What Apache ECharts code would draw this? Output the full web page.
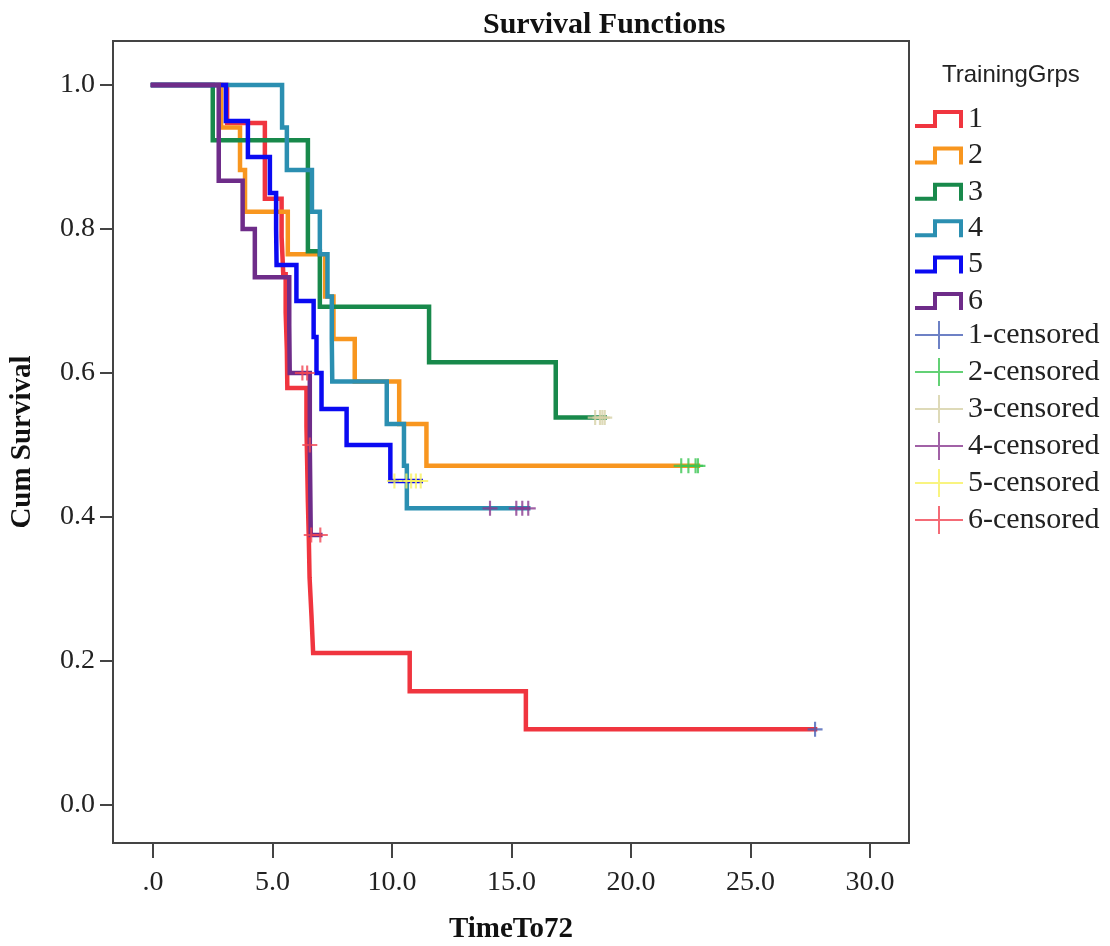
<!DOCTYPE html>
<html>
<head>
<meta charset="utf-8">
<script src="https://cdn.jsdelivr.net/npm/echarts@6/dist/echarts.min.js"></script>
<style>
  html, body { margin: 0; padding: 0; background: #ffffff; }
  #chart { width: 1110px; height: 946px; }
</style>
</head>
<body>
<div id="chart"></div>
<script>
// Kaplan-Meier survival curves by training group: [time, cumulative survival]
const grp1 = [[0, 1], [3.1, 0.947], [4.68, 0.842], [5.38, 0.789], [5.45, 0.737], [5.55, 0.684],
  [5.6, 0.632], [5.62, 0.579], [6.42, 0.526], [6.45, 0.474], [6.48, 0.421], [6.52, 0.368],
  [6.55, 0.316], [6.63, 0.263], [6.7, 0.211], [10.74, 0.158], [15.6, 0.105], [27.7, 0.105]];
const grp2 = [[0, 1], [2.85, 0.941], [3.64, 0.882], [3.85, 0.824], [5.64, 0.765], [7.2, 0.706],
  [7.55, 0.647], [8.44, 0.588], [10.3, 0.529], [11.44, 0.471], [22.8, 0.471]];
const grp3 = [[0, 1], [2.5, 0.923], [6.48, 0.769], [6.98, 0.692], [11.55, 0.615], [16.85, 0.538],
  [18.9, 0.538]];
const grp4 = [[0, 1], [5.4, 0.941], [5.6, 0.882], [6.65, 0.824], [6.98, 0.765], [7.3, 0.706],
  [7.48, 0.647], [7.5, 0.588], [9.78, 0.529], [10.5, 0.471], [10.62, 0.412], [15.7, 0.412]];
const grp5 = [[0, 1], [3.05, 0.95], [3.97, 0.9], [4.89, 0.85], [5.15, 0.8], [5.17, 0.75], [6.0, 0.7],
  [6.72, 0.65], [6.84, 0.6], [7.05, 0.55], [8.1, 0.5], [9.93, 0.45], [11.2, 0.45]];
const grp6 = [[0, 1], [2.75, 0.867], [3.75, 0.8], [4.26, 0.733], [5.7, 0.667], [5.72, 0.6],
  [6.56, 0.5], [6.6, 0.375], [7.0, 0.375]];

// Censored observations: [time, survival at censoring]
const cens1 = [[27.7, 0.105]];
const cens2 = [[22.1, 0.471], [22.4, 0.471], [22.7, 0.471], [22.8, 0.471]];
const cens3 = [[18.5, 0.538], [18.7, 0.538], [18.8, 0.538], [18.9, 0.538]];
const cens4 = [[14.1, 0.412], [15.2, 0.412], [15.45, 0.412], [15.7, 0.412]];
const cens5 = [[10.1, 0.45], [10.6, 0.45], [10.8, 0.45], [11.0, 0.45], [11.2, 0.45]];
const cens6 = [[6.25, 0.6], [6.45, 0.6], [6.56, 0.5], [6.62, 0.375], [7.0, 0.375]];

const groupNames = ['1', '2', '3', '4', '5', '6'];
const censoredNames = ['1-censored', '2-censored', '3-censored', '4-censored', '5-censored', '6-censored'];
const groupColors = ['#f0353f', '#f8961f', '#18894b', '#2b8fb1', '#0a0af2', '#6e2c89'];
const censoredColors = ['#4862b6', '#3cc653', '#d6d1a6', '#8a3a90', '#f7f160', '#f14654'];

const xTicks = [0, 5, 10, 15, 20, 25, 30];
const xTickLabels = ['.0', '5.0', '10.0', '15.0', '20.0', '25.0', '30.0'];
const yTicks = [0, 0.2, 0.4, 0.6, 0.8, 1.0];
const yTickLabels = ['0.0', '0.2', '0.4', '0.6', '0.8', '1.0'];

const groups = [grp1, grp2, grp3, grp4, grp5, grp6];
const censored = [cens1, cens2, cens3, cens4, cens5, cens6];

function tickText(ticks, labels, v) {
  for (let i = 0; i < ticks.length; i++) {
    if (Math.abs(ticks[i] - v) < 1e-6) return labels[i];
  }
  return '';
}

const serif = '"Liberation Serif", "Times New Roman", serif';
const stepIcon = 'path://M0,14H18V0H48V18H44V4H22V18H0Z';
const plusIcon = 'path://M0,13H23V0H25V13H48V15H25V28H23V15H0Z';
const plusMark = 'path://M0,6H6V0H8V6H14V8H8V14H6V8H0Z';

const series = [];
groups.forEach((g, i) => {
  series.push({
    name: groupNames[i],
    type: 'line',
    step: 'end',
    data: g,
    color: groupColors[i],
    showSymbol: false,
    symbol: 'none',
    lineStyle: { width: 4.5, color: groupColors[i], cap: 'square', join: 'miter' },
    z: 2 + i
  });
});
censored.forEach((c, i) => {
  series.push({
    name: censoredNames[i],
    type: 'scatter',
    data: c,
    color: censoredColors[i],
    symbol: plusMark,
    symbolSize: 15,
    itemStyle: { color: censoredColors[i] },
    z: 10 + i
  });
});

const chart = echarts.init(document.getElementById('chart'));
chart.setOption({
  animation: false,
  backgroundColor: '#ffffff',
  title: [
    {
      text: 'Survival Functions',
      left: 478, top: 5,
      textStyle: { fontFamily: serif, fontWeight: 'bold', fontSize: 30, color: '#111' }
    },
    {
      text: 'TrainingGrps',
      left: 937, top: 58,
      textStyle: { fontFamily: '"Liberation Sans", Arial, sans-serif', fontWeight: 'normal', fontSize: 24, color: '#222' }
    }
  ],
  legend: [
    {
      data: groupNames.map(n => ({ name: n, icon: stepIcon })),
      orient: 'vertical',
      left: 915, top: 104,
      padding: 0,
      itemWidth: 48, itemHeight: 18,
      itemGap: 6.4,
      itemStyle: { borderWidth: 0 },
      textStyle: { fontFamily: serif, fontSize: 30, lineHeight: 30, color: '#222' },
      selectedMode: false
    },
    {
      data: censoredNames.map(n => ({ name: n, icon: plusIcon })),
      orient: 'vertical',
      left: 915, top: 320,
      padding: 0,
      itemWidth: 48, itemHeight: 28,
      itemGap: 7,
      itemStyle: { borderWidth: 0 },
      textStyle: { fontFamily: serif, fontSize: 30, lineHeight: 30, color: '#222' },
      selectedMode: false
    }
  ],
  grid: {
    left: 113, top: 41, width: 796, height: 802,
    outerBoundsMode: 'none',
    containLabel: false,
    show: true, borderColor: '#444', borderWidth: 2, backgroundColor: '#ffffff'
  },
  xAxis: {
    type: 'value',
    min: -1.674, max: 31.63,
    name: 'TimeTo72',
    nameLocation: 'middle',
    nameGap: 72,
    nameTextStyle: { fontFamily: serif, fontWeight: 'bold', fontSize: 29, color: '#111' },
    splitLine: { show: false },
    axisLine: { show: true, onZero: false, lineStyle: { color: '#444', width: 2 } },
    axisTick: { show: true, length: 15, customValues: xTicks, lineStyle: { color: '#444', width: 2 } },
    axisLabel: {
      customValues: xTicks, margin: 26,
      fontFamily: serif, fontSize: 28, color: '#222',
      formatter: v => tickText(xTicks, xTickLabels, v)
    }
  },
  yAxis: {
    type: 'value',
    min: -0.0528, max: 1.061,
    name: 'Cum Survival',
    nameLocation: 'middle',
    nameGap: 76,
    nameTextStyle: { fontFamily: serif, fontWeight: 'bold', fontSize: 29, color: '#111' },
    splitLine: { show: false },
    axisLine: { show: true, onZero: false, lineStyle: { color: '#444', width: 2 } },
    axisTick: { show: true, length: 13, customValues: yTicks, lineStyle: { color: '#444', width: 2 } },
    axisLabel: {
      customValues: yTicks, margin: 18,
      fontFamily: serif, fontSize: 28, color: '#222',
      formatter: v => tickText(yTicks, yTickLabels, v)
    }
  },
  series: series
});
</script>
</body>
</html>
